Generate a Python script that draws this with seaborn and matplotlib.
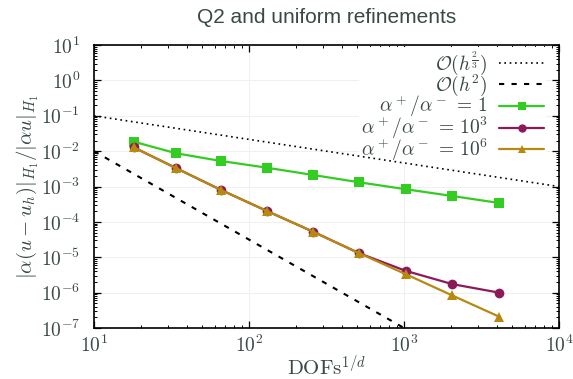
import numpy as np
import pandas as pd
import matplotlib
matplotlib.use("Agg")
import matplotlib.pyplot as plt
import matplotlib.ticker as mticker
import seaborn as sns

# Mesh sizes: DOFs^(1/d) for each uniform refinement level
dofs = [18, 34, 66, 130, 258, 514, 1026, 2050, 4098]

# Relative weighted H1 error for each contrast ratio
err_ratio_1 = [1.86e-2, 8.7e-3, 5.28e-3, 3.42e-3, 2.13e-3, 1.32e-3, 8.4e-4, 5.4e-4, 3.44e-4]
err_ratio_1e3 = [1.29e-2, 3.29e-3, 8.0e-4, 2.05e-4, 5.33e-5, 1.30e-5, 4.13e-6, 1.74e-6, 1.0e-6]
err_ratio_1e6 = [1.29e-2, 3.29e-3, 8.0e-4, 2.05e-4, 5.33e-5, 1.30e-5, 3.33e-6, 8.3e-7, 2.1e-7]

series_labels = [r"$\alpha^+/\alpha^- \,=\, 1$",
                 r"$\alpha^+/\alpha^- \,=\, 10^3$",
                 r"$\alpha^+/\alpha^- \,=\, 10^6$"]

# Reference convergence slopes (end points of each guide line)
ref_23_x = [10, 1e4]
ref_23_y = [1e-1, 1e-3]
ref_2_x = [10, 1e3]
ref_2_y = [1e-2, 1e-7]
ref_labels = [r"$\mathcal{O}(h^{\frac{2}{3}})$", r"$\mathcal{O}(h^2)$"]

title = "Q2 and uniform refinements"
xlabel = r"$\mathrm{DOFs}^{1/d}$"
ylabel = r"$|\alpha(u-u_h)|_{H_1}/|\alpha u|_{H_1}$"

colors = ["#33cc22", "#8c1a5a", "#b8890f"]
markers = ["s", "o", "^"]

sns.set_theme(style="ticks")
plt.rcParams["mathtext.fontset"] = "cm"
plt.rcParams["font.family"] = ["Liberation Sans", "DejaVu Sans"]

text_color = "#3a4848"

df = pd.DataFrame({
    "dofs": dofs * 3,
    "err": err_ratio_1 + err_ratio_1e3 + err_ratio_1e6,
    "case": [series_labels[0]] * len(dofs) + [series_labels[1]] * len(dofs)
            + [series_labels[2]] * len(dofs),
})

fig = plt.figure(figsize=(5.73, 3.79), dpi=100)
ax = fig.add_axes([0.164, 0.1346, 0.8116, 0.7464])

ax.set_xscale("log")
ax.set_yscale("log")
ax.set_xlim(10, 1e4)
ax.set_ylim(1e-7, 10)

for axis in (ax.xaxis, ax.yaxis):
    axis.set_major_locator(mticker.LogLocator(base=10, numticks=20))
    axis.set_minor_locator(mticker.LogLocator(base=10, subs=np.arange(2, 10),
                                              numticks=20))
    axis.set_major_formatter(mticker.FuncFormatter(
        lambda v, pos: r"$10^{%d}$" % int(round(np.log10(v)))))
    axis.set_minor_formatter(mticker.NullFormatter())

ax.grid(True, which="major", color="#f0f0f0", linewidth=0.8, zorder=0.5)

h_ref1, = ax.plot(ref_23_x, ref_23_y, color="black", linestyle=(0, (1, 2.2)),
                  linewidth=1.2)
h_ref2, = ax.plot(ref_2_x, ref_2_y, color="black", linestyle=(0, (2.5, 3.5)),
                  linewidth=1.5)

sns.lineplot(data=df, x="dofs", y="err", hue="case", style="case",
             palette=colors, markers=markers, dashes=False, linewidth=1.6,
             markersize=7, markeredgewidth=0, ax=ax, legend=False,
             hue_order=series_labels, style_order=series_labels)

handles = [h_ref1, h_ref2]
for c, m in zip(colors, markers):
    h, = ax.plot([], [], color=c, marker=m, markersize=6, linewidth=1.6,
                 markeredgewidth=0)
    handles.append(h)

# markerfirst=False right-aligns each row, with the sample to the right
leg = ax.legend(handles, ref_labels + series_labels, loc="upper right",
                bbox_to_anchor=(0.972, 0.993), borderaxespad=0.0,
                markerfirst=False, fontsize=14, handlelength=2.3,
                handletextpad=0.6, labelspacing=-0.22, borderpad=0.1,
                frameon=True, fancybox=False)
leg.get_frame().set_facecolor("white")
leg.get_frame().set_edgecolor("none")
leg.get_frame().set_alpha(1.0)
# white key box hides the grid but stays beneath the curves
leg.set_zorder(1.5)
for t in leg.get_texts():
    t.set_color(text_color)

for side in ["top", "right", "bottom", "left"]:
    ax.spines[side].set_visible(True)
    ax.spines[side].set_color("black")
    ax.spines[side].set_linewidth(1.2)

ax.tick_params(which="both", direction="in", top=True, right=True,
               colors="black", labelcolor=text_color, labelsize=14)
ax.tick_params(which="major", length=5, width=0.9)
ax.tick_params(which="minor", length=2.5, width=0.7)
ax.tick_params(axis="x", pad=5)
ax.tick_params(axis="y", pad=10)

ax.set_xlabel(xlabel, fontsize=15, color=text_color, labelpad=-1)
ax.set_ylabel(ylabel, fontsize=15, color=text_color, labelpad=0)
ax.set_title(title, fontsize=15, color=text_color, pad=16)

fig.savefig("out.png", dpi=100)
